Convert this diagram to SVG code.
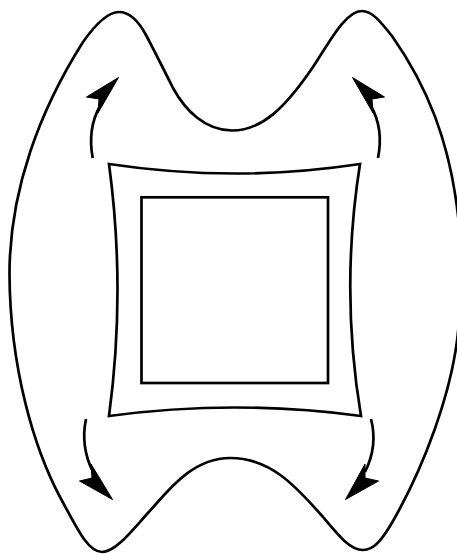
<svg xmlns="http://www.w3.org/2000/svg" width="457" height="554" viewBox="0 0 457 554">
<style>
.l{fill:none;stroke:#000;stroke-width:2.7;stroke-linejoin:miter}
.h{fill:#000;stroke:#000;stroke-width:1}
</style>
<rect width="457" height="554" fill="#fff"/>
<g id="outer"><path class="l" d="M119 12C130 12 139 22 146 35C155 52 165 72 173 88C185 110 205 130.500 232 130.500C262 130.500 285 108 313 67C329 43 345 11 362 11C372 11 380 21 392 36C425 83 451 140 459 225C462 260 462 300 457 341C450 395 425 465 393 521C382 540 374 550 363 550C350 550 338 535 323 517C295 485 270 458 230 458C190 458 165 495 147 514C130 533 115 552 102 552C88 552 78 530 60 497C35 450 10 370 9.500 274C9.500 190 40 110 83 42C95 25 107 12 119 12Z"/></g>
<g id="inner"><path class="l" d="M109 164Q235 183 360 164Q340 290 361 416Q235 399 109 416Q126 290 109 164Z"/></g>
<g id="square"><rect class="l" x="141.500" y="197.300" width="186.500" height="185.700"/></g>
<g id="connectors">
<path class="l" d="M92.700 158C89 138 91 122 100 106"/><path class="h" d="M118.500 77.500L86.500 97L99 99L98 113Z"/>
<path class="l" d="M378 158C382 138 380 122 371 106"/><path class="h" d="M352.500 77.500L384.500 97L372 99L373 113Z"/>
<path class="l" d="M86 419C82 438 84 454 93 472"/><path class="h" d="M112.500 499.500L79.500 481L92 478L91 464Z"/>
<path class="l" d="M371 419C376 438 374 454 365 472"/><path class="h" d="M345.500 499.500L378.500 481L365 478L365 464Z"/>
</g>
</svg>
